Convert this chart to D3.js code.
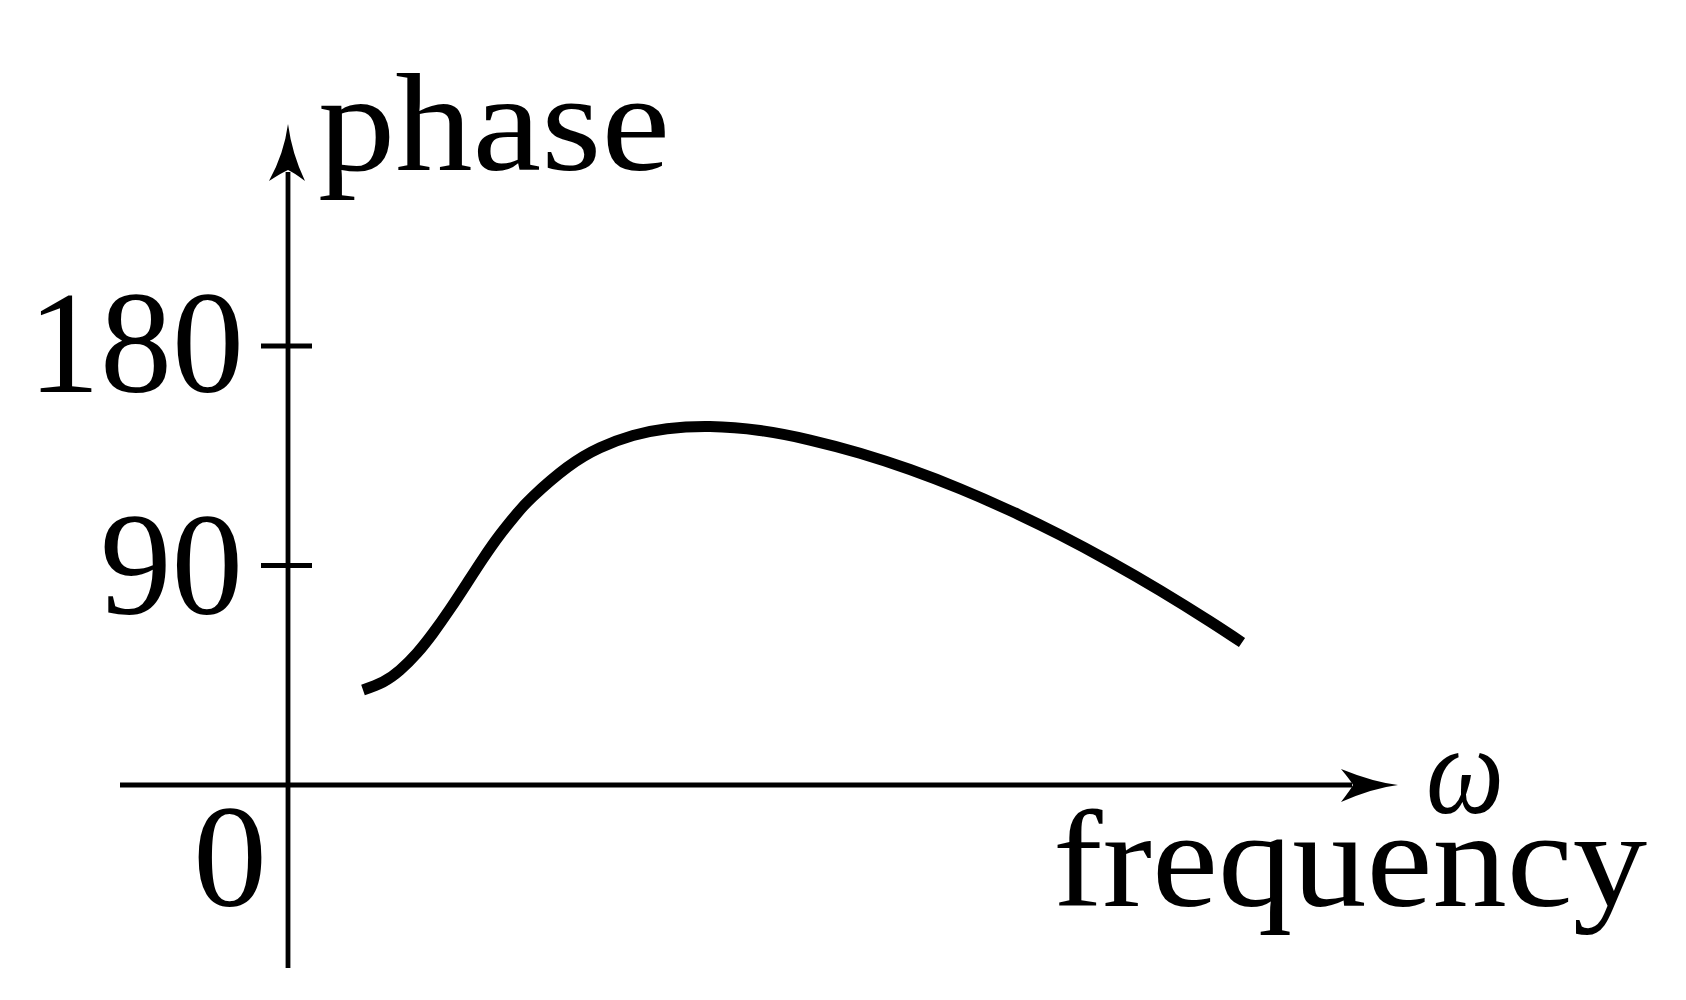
<!DOCTYPE html>
<html><head><meta charset="utf-8">
<script src="https://cdn.jsdelivr.net/npm/d3@7"></script>
<style>html,body{margin:0;padding:0;background:#fff;}svg{display:block;}text{font-family:'Liberation Serif',serif;}</style>
</head><body>
<svg id="c" width="1686" height="1000"></svg>
<script>
// data (frequency in arbitrary units, phase in degrees)
const frequency = [7.5,9.5,11.2,12.9,14.5,16.2,17.9,19.5,21.2,22.9,24.5,27.9,31.2,34.5,37.9,42.2,47.2,52.2,57.2,62.2,67.2,72.2,77.2,82.2,87.2,92.2,95.4];
const phase     = [38.95,42.23,47.11,54.08,62.28,72.16,82.74,92.78,102.66,111.36,118.33,130.18,138.29,143.30,146.08,146.99,145.35,141.45,136.04,129.36,121.48,112.50,102.54,91.59,79.75,67.04,58.43];
const yTicks = [0, 90, 180];
const yTickLabels = ["0", "90", "180"];
const yLabel = "phase";
const xLabel = "frequency";
const xSymbol = "ω";

const svg = d3.select("#c");
const x = d3.scaleLinear().domain([0, 111]).range([288, 1398]);
const y = d3.scaleLinear().domain([0, 180]).range([785, 346]);

const x0 = x(0), y0 = y(0);
const axisW = 4.8;

// axes lines
svg.append("line").attr("x1", x0).attr("x2", x0).attr("y1", 968).attr("y2", 172)
  .attr("stroke", "#000").attr("stroke-width", axisW);
svg.append("line").attr("x1", 120).attr("x2", x.range()[1] - 46).attr("y1", y0).attr("y2", y0)
  .attr("stroke", "#000").attr("stroke-width", axisW);

// arrowheads
const tipY = 124;
svg.append("path")
  .attr("d", `M${x0},${tipY} Q${x0+4},${tipY+30} ${x0+17},${tipY+57} Q${x0+5},${tipY+48} ${x0},${tipY+46} Q${x0-5},${tipY+48} ${x0-19},${tipY+57} Q${x0-4},${tipY+30} ${x0},${tipY} Z`)
  .attr("fill", "#000");
const tipX = x.range()[1];
svg.append("path")
  .attr("d", `M${tipX},${y0} Q${tipX-25},${y0+3} ${tipX-57},${y0+17} Q${tipX-47},${y0+4} ${tipX-45},${y0} Q${tipX-47},${y0-4} ${tipX-57},${y0-16} Q${tipX-25},${y0-3} ${tipX},${y0} Z`)
  .attr("fill", "#000");

// ticks (90, 180)
yTicks.filter(d => d > 0).forEach(d => {
  svg.append("line").attr("x1", x0 - 27).attr("x2", x0 + 24).attr("y1", y(d)).attr("y2", y(d))
    .attr("stroke", "#000").attr("stroke-width", axisW);
});

// tick labels
const labelPos = { "0": [193, 906, 74], "90": [100, y(90) + 48, 143], "180": [28, y(180) + 46, 216] };
yTicks.forEach((d, i) => {
  const lbl = yTickLabels[i];
  const p = labelPos[lbl];
  svg.append("text").attr("font-size", 146).attr("x", p[0]).attr("y", p[1])
    .attr("textLength", p[2]).attr("lengthAdjust", "spacingAndGlyphs").text(lbl);
});

// axis labels
svg.append("text").attr("x", 318).attr("y", 170).attr("font-size", 140)
  .attr("textLength", 352).attr("lengthAdjust", "spacingAndGlyphs").text(yLabel);
svg.append("text").attr("x", 1053).attr("y", 906).attr("font-size", 138)
  .attr("textLength", 594).attr("lengthAdjust", "spacingAndGlyphs").text(xLabel);
svg.append("text").attr("x", 1426).attr("y", 813).attr("font-style", "italic")
  .attr("font-size", 128).attr("textLength", 78).attr("lengthAdjust", "spacingAndGlyphs").text(xSymbol);

// curve
const pts = frequency.map((f, i) => [f, phase[i]]);
const line = d3.line().x(d => x(d[0])).y(d => y(d[1])).curve(d3.curveNatural);
svg.append("path").datum(pts).attr("d", line).attr("fill", "none")
  .attr("stroke", "#000").attr("stroke-width", 11).attr("stroke-linecap", "butt");
</script>
</body></html>
